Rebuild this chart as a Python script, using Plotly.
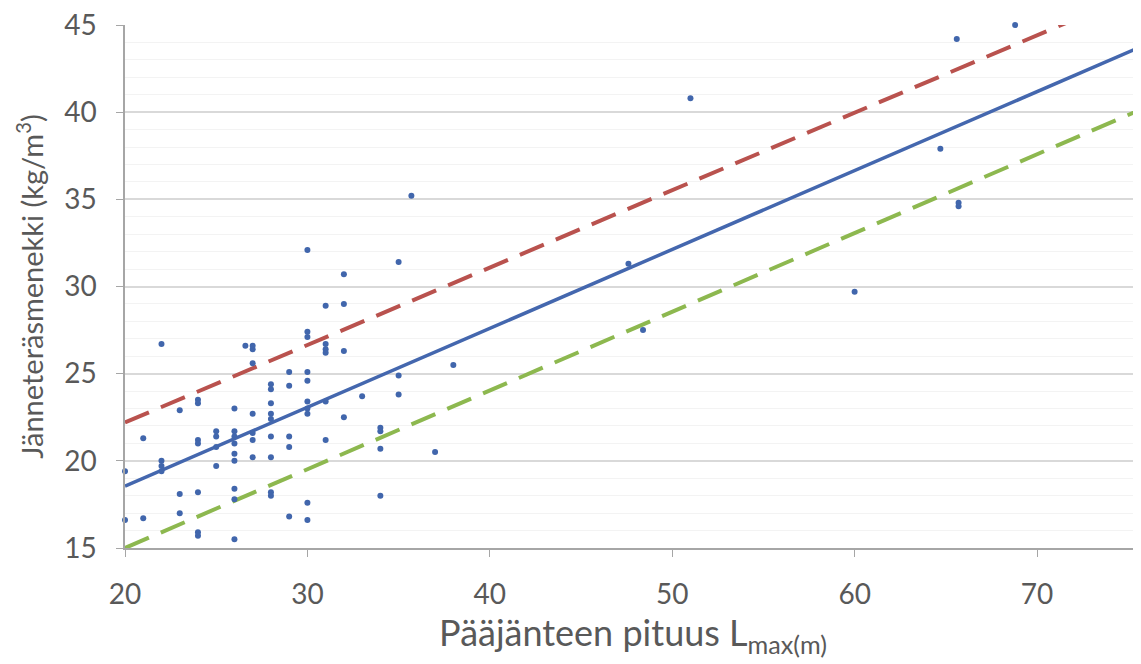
import plotly.graph_objects as go

# Scatter data: span length (m) vs tendon steel consumption (kg/m3)
span_m = [20, 20, 21, 21, 22, 22, 22, 22, 23, 23, 23,
          24, 24, 24, 24, 24, 24, 24,
          25, 25, 25, 25,
          26, 26, 26, 26, 26, 26, 26, 26, 26,
          26.6, 27, 27, 27, 27, 27, 27, 27,
          28, 28, 28, 28, 28, 28, 28, 28, 28,
          29, 29, 29, 29, 29,
          30, 30, 30, 30, 30, 30, 30, 30, 30, 30,
          31, 31, 31, 31, 31, 31,
          32, 32, 32, 32,
          33, 34, 34, 34, 34,
          35, 35, 35, 35.7, 37, 38,
          47.6, 48.4, 51.0, 60.0, 64.7, 65.6, 65.7, 65.7, 68.8]
steel_kgm3 = [19.4, 16.6, 21.3, 16.7, 26.7, 20.0, 19.7, 19.4, 22.9, 18.1, 17.0,
              23.5, 23.3, 21.2, 21.0, 18.2, 15.9, 15.7,
              21.7, 21.4, 20.8, 19.7,
              23.0, 21.7, 21.4, 21.0, 20.4, 20.0, 18.4, 17.8, 15.5,
              26.6, 26.4, 25.6, 22.7, 21.6, 21.2, 20.2, 26.6,
              24.4, 24.1, 23.3, 22.7, 22.4, 21.4, 20.2, 18.2, 18.0,
              25.1, 24.3, 21.4, 20.8, 16.8,
              32.1, 27.4, 27.1, 25.1, 24.6, 23.4, 23.0, 22.7, 17.6, 16.6,
              28.9, 26.7, 26.4, 26.2, 23.4, 21.2,
              30.7, 29.0, 26.3, 22.5,
              23.7, 21.9, 21.7, 20.7, 18.0,
              31.4, 24.9, 23.8, 35.2, 20.5, 25.5,
              31.3, 27.5, 40.8, 29.7, 37.9, 44.2, 34.8, 34.6, 45.0]

# Regression line and its bounds (endpoints)
fit_x = [20, 80]
fit_mean = [18.55, 45.7]
fit_upper = [22.2, 48.85]
fit_lower = [15.0, 42.1]

# Axis ticks
x_ticks = [20, 30, 40, 50, 60, 70]
y_ticks = [15, 20, 25, 30, 35, 40, 45]

fig = go.Figure()

fig.add_trace(go.Scatter(x=fit_x, y=fit_upper, mode="lines",
                         line=dict(color="#B9524E", width=4, dash="26px,13px"),
                         showlegend=False, hoverinfo="skip"))
fig.add_trace(go.Scatter(x=fit_x, y=fit_lower, mode="lines",
                         line=dict(color="#8DB84F", width=4, dash="26px,13px"),
                         showlegend=False, hoverinfo="skip"))
fig.add_trace(go.Scatter(x=fit_x, y=fit_mean, mode="lines",
                         line=dict(color="#4467AE", width=3.5),
                         showlegend=False, hoverinfo="skip"))
fig.add_trace(go.Scatter(x=span_m, y=steel_kgm3, mode="markers",
                         marker=dict(color="#4166AC", size=6),
                         cliponaxis=False, showlegend=False))

font_family = "Lato, 'Open Sans', sans-serif"

fig.update_layout(
    width=1133, height=656,
    margin=dict(l=117, r=0, t=17, b=116),
    paper_bgcolor="white", plot_bgcolor="white",
    font=dict(family=font_family, color="#595959"),
)

fig.update_xaxes(
    range=[20, 75.7], tickvals=x_ticks, ticktext=[str(t) for t in x_ticks],
    showgrid=False, zeroline=False,
    showline=True, linecolor="#A6A6A6", linewidth=1.5,
    ticks="outside", ticklen=7, tickcolor="#A6A6A6",
    ticklabelstandoff=14, ticklabeloverflow="allow",
    tickfont=dict(size=28, color="#595959"),
    title=dict(text="Pääjänteen pituus L<sub>max(m)</sub>",
               font=dict(size=36, color="#595959"), standoff=6),
)
fig.update_yaxes(
    range=[15, 45], tickvals=y_ticks, ticktext=[str(t) for t in y_ticks],
    showgrid=True, gridcolor="#D9D9D9", gridwidth=1.5, zeroline=False,
    showline=True, linecolor="#A6A6A6", linewidth=1.5,
    ticks="outside", ticklen=7, tickcolor="#A6A6A6",
    ticklabelstandoff=14, ticklabeloverflow="allow",
    tickfont=dict(size=28, color="#595959"),
    title=dict(text="Jänneteräsmenekki (kg/m<sup>3</sup>)",
               font=dict(size=29, color="#595959"), standoff=12),
    minor=dict(showgrid=True, gridcolor="#F3F3F3", gridwidth=1, dtick=1),
)

fig.write_html("out.html")
